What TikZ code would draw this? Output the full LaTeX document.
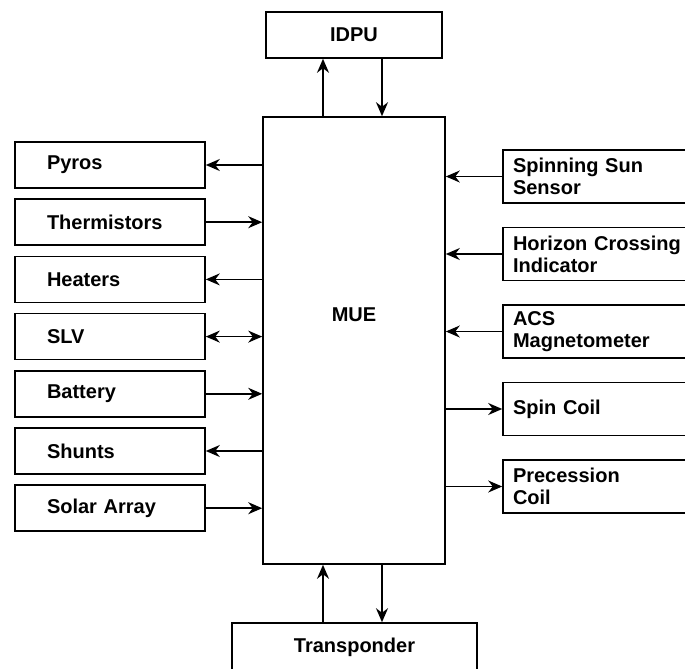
\documentclass[tikz,border=0pt]{standalone}
\usepackage{fontspec}
\setmainfont{Liberation Sans}
\usetikzlibrary{arrows.meta}

\begin{document}
\begin{tikzpicture}[x=0.75pt,y=-0.75pt,
  txt/.style={font=\fontsize{15}{16.5}\selectfont\bfseries},
  box/.style={draw,line width=1.2pt,txt},
  lbox/.style={box,minimum height=34.5pt,text width=94.5pt,inner xsep=24pt,align=left},
  rbox/.style={box,minimum height=39.75pt,text width=165pt,inner xsep=7.5pt,align=left},
  arr/.style={line width=1.1pt,>={Stealth[length=10.5pt,width=9pt]}},
  tobox/.style={<-}, tomue/.style={->}, both/.style={<->}]
  \useasboundingbox (0,0) rectangle (685,668);
  \clip (0,0) rectangle (685,668);
  % central unit and the two boxes above and below it
  \node[box,minimum width=136.5pt,minimum height=335.25pt,
        label={[txt,yshift=19.5pt]center:MUE}] (mue) at (354,340.5) {};
  \node[box,minimum width=132pt,minimum height=34.5pt] (idpu) at (354,35) {IDPU};
  \node[box,minimum width=183.75pt,minimum height=36pt] (xpdr) at (354.5,647) {Transponder};
  \coordinate (up) at (323,0);
  \coordinate (dn) at (382,0);
  \draw[arr,->] (mue.north -| up) -- (idpu.south -| up);
  \draw[arr,->] (idpu.south -| dn) -- (mue.north -| dn);
  \draw[arr,->] (xpdr.north -| up) -- (mue.south -| up);
  \draw[arr,->] (mue.south -| dn) -- (xpdr.north -| dn);
  % left column
  \foreach \name/\lbl/\dir [count=\i from 0] in {pyros/Pyros/tobox, therm/Thermistors/tomue,
      heat/Heaters/tobox, slv/SLV/both, batt/Battery/tomue, shunt/Shunts/tobox,
      solar/Solar Array/tomue}{
    \node[lbox] (\name) at (110,165+57.2*\i) {\lbl};
    \draw[arr,\dir] (\name.east) -- (\name.east -| mue.west);
  }
  % right column
  \foreach \name/\lbl/\dir [count=\i from 0] in {ssun/{Spinning Sun\\Sensor}/tomue,
      hci/{Horizon Crossing\\Indicator}/tomue, acs/{ACS\\Magnetometer}/tomue,
      spin/Spin Coil/tobox, prec/{Precession\\Coil}/tobox}{
    \node[rbox] (\name) at (623,176.5+77.5*\i) {\lbl};
    \draw[arr,\dir] (\name.west) -- (\name.west -| mue.east);
  }
\end{tikzpicture}
\end{document}
